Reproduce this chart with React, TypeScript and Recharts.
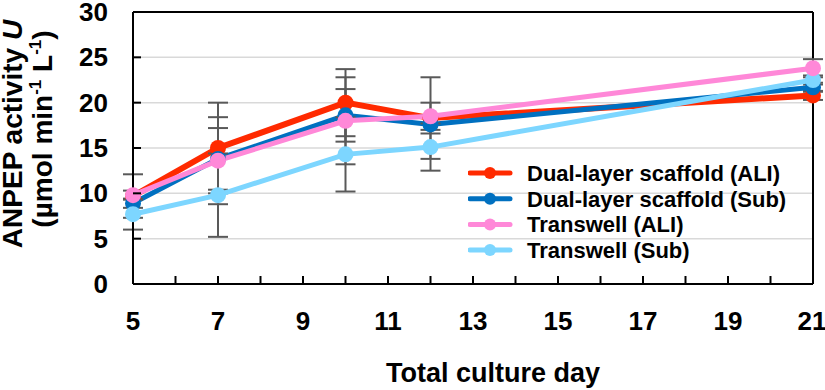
import React from 'react'
import { LineChart, Line, XAxis, YAxis, CartesianGrid, ErrorBar, ReferenceLine, Legend } from 'recharts'

// culture days and measured ANPEP activity (µmol/min/L), mean and error
const days = [5, 7, 10, 12, 21]
const dualAli = [9.7, 15.0, 20.0, 18.3, 20.8]
const dualAliErr = [2.4, 5.0, 3.7, 4.5, 0.5]
const dualSub = [8.9, 13.8, 18.6, 17.6, 21.7]
const dualSubErr = [0.5, 3.4, 2.9, 1.0, 0.5]
const transAli = [9.8, 13.6, 18.0, 18.5, 23.8]
const transAliErr = [0.5, 4.8, 4.8, 1.5, 1.0]
const transSub = [7.7, 9.8, 14.3, 15.1, 22.5]
const transSubErr = [1.7, 4.6, 4.1, 2.6, 0.5]

const xTicks = [5, 6, 7, 8, 9, 10, 11, 12, 13, 14, 15, 16, 17, 18, 19, 20, 21]
const yTicks = [0, 5, 10, 15, 20, 25, 30]

const series = [
  { key: 'dualAli', name: 'Dual-layer scaffold (ALI)', color: '#FF2A00', width: 6 },
  { key: 'dualSub', name: 'Dual-layer scaffold (Sub)', color: '#0070C0', width: 5 },
  { key: 'transAli', name: 'Transwell (ALI)', color: '#FF88D8', width: 5 },
  { key: 'transSub', name: 'Transwell (Sub)', color: '#7DD6FF', width: 5 },
]
// drawing order (last one on top)
const drawOrder = ['dualAli', 'dualSub', 'transSub', 'transAli']

const data = days.map((day, i) => ({
  day,
  dualAli: dualAli[i],
  dualAliErr: dualAliErr[i],
  dualSub: dualSub[i],
  dualSubErr: dualSubErr[i],
  transAli: transAli[i],
  transAliErr: transAliErr[i],
  transSub: transSub[i],
  transSubErr: transSubErr[i],
}))

const FONT = '"Liberation Sans", Arial, sans-serif'

function XTick(props: any) {
  const { x, y, payload } = props
  const v = payload.value
  return (
    <g>
      {v !== 5 && v !== 21 && <line x1={x} x2={x} y1={y} y2={y - 8} stroke="#000" strokeWidth={2} />}
      {v % 2 === 1 && (
        <text x={v === 21 ? x - 1 : x} y={y + 46} textAnchor="middle" fontFamily={FONT} fontWeight="bold" fontSize={26} fill="#000">
          {v}
        </text>
      )}
    </g>
  )
}

function YTick(props: any) {
  const { x, y, payload } = props
  const v = payload.value
  return (
    <g>
      {v !== 0 && v !== 30 && <line x1={x} x2={x + 8} y1={y} y2={y} stroke="#000" strokeWidth={2} />}
      <text x={x - 25} y={y + 9} textAnchor="end" fontFamily={FONT} fontWeight="bold" fontSize={26} fill="#000">
        {v}
      </text>
    </g>
  )
}

function YTitle() {
  return (
    <g fontFamily={FONT} fontWeight="bold" fill="#000">
      <text transform="translate(22, 134) rotate(-90)" textAnchor="middle" fontSize={28}>
        ANPEP activity <tspan fontStyle="italic">U</tspan>
      </text>
      <text transform="translate(52, 129) rotate(-90)" textAnchor="middle" fontSize={28}>
        (µmol min<tspan fontSize={17} dy={-11}>-1</tspan>
        <tspan dy={11}> L</tspan>
        <tspan fontSize={17} dy={-11}>-1</tspan>
        <tspan dy={11}>)</tspan>
      </text>
    </g>
  )
}

function LegendBox() {
  return (
    <svg width={340} height={105}>
      {series.map((s, i) => {
        const cy = 13 + i * 25.7
        return (
          <g key={s.key}>
            <line x1={2} x2={42} y1={cy} y2={cy} stroke={s.color} strokeWidth={5} strokeLinecap="round" />
            <circle cx={22} cy={cy} r={6} fill={s.color} />
            <text x={59} y={cy + 8} fontFamily={FONT} fontWeight="bold" fontSize={22} fill="#000">
              {s.name}
            </text>
          </g>
        )
      })}
    </svg>
  )
}

export default function App() {
  return (
    <div style={{ position: 'absolute', left: 0, top: 0, width: 825, height: 390, background: '#fff' }}>
      <LineChart width={825} height={390} data={data} margin={{ top: 12, right: 12, left: 0, bottom: 0 }}>
        <CartesianGrid horizontal vertical={false} stroke="#D9D9D9" strokeWidth={1.5} />
        <XAxis
          dataKey="day"
          type="number"
          domain={[5, 21]}
          ticks={xTicks}
          interval={0}
          height={106}
          tickSize={0}
          tickMargin={0}
          tickLine={false}
          axisLine={{ stroke: '#000', strokeWidth: 2 }}
          tick={<XTick />}
          label={{
            value: 'Total culture day',
            position: 'insideBottom',
            offset: 8,
            dx: 20,
            fontFamily: FONT,
            fontWeight: 'bold',
            fontSize: 27,
            fill: '#000',
          }}
        />
        <YAxis
          type="number"
          domain={[0, 30]}
          ticks={yTicks}
          interval={0}
          width={133}
          tickSize={0}
          tickMargin={0}
          tickLine={false}
          axisLine={{ stroke: '#000', strokeWidth: 2 }}
          tick={<YTick />}
          label={{ content: () => <YTitle /> }}
        />
        <ReferenceLine y={30} stroke="#000" strokeWidth={2} />
        <ReferenceLine x={21} stroke="#000" strokeWidth={2} />
        {drawOrder.map((k) => {
          const s = series.find((d) => d.key === k)!
          return (
            <Line
              key={s.key}
              dataKey={s.key}
              name={s.name}
              stroke={s.color}
              strokeWidth={s.width}
              dot={{ r: 8, fill: s.color, stroke: s.color, strokeWidth: 0 }}
              activeDot={false}
              isAnimationActive={false}
            >
              <ErrorBar dataKey={`${s.key}Err`} direction="y" width={10} stroke="#595959" strokeWidth={2} />
            </Line>
          )
        })}
        <Legend
          layout="vertical"
          align="center"
          verticalAlign="middle"
          content={() => <LegendBox />}
          wrapperStyle={{ left: 468, top: 160, width: 340, height: 105 }}
        />
      </LineChart>
    </div>
  )
}
